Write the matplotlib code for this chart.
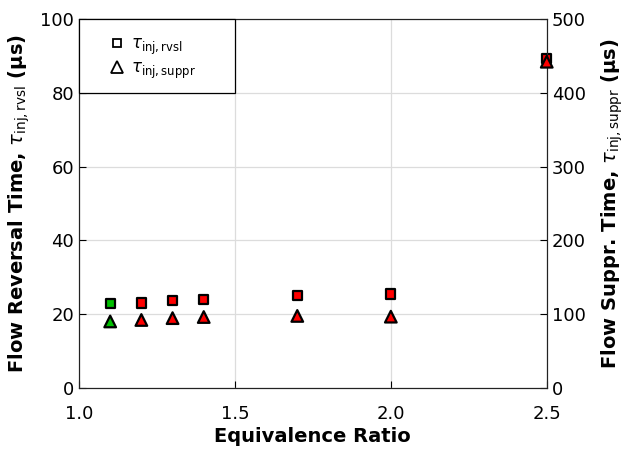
import matplotlib
matplotlib.use("Agg")
import matplotlib.pyplot as plt
from matplotlib.lines import Line2D
from matplotlib.patches import Rectangle

phi = [1.1, 1.2, 1.3, 1.4, 1.7, 2.0, 2.5]
tau_rvsl = [22.8, 23.0, 23.6, 24.0, 25.0, 25.4, 89.3]
tau_suppr = [90, 92, 94.5, 96, 97.5, 96.5, 442]
colors = ["#00c000", "red", "red", "red", "red", "red", "red"]

fig = plt.figure(figsize=(6.27, 4.51), dpi=100)
ax = fig.add_axes([0.126, 0.140, 0.746, 0.818])
ax2 = ax.twinx()

ax.set_xlim(1.0, 2.5)
ax.set_ylim(0, 100)
ax2.set_ylim(0, 500)
ax.set_xticks([1.0, 1.5, 2.0, 2.5])
ax.set_yticks([0, 20, 40, 60, 80, 100])
ax2.set_yticks([0, 100, 200, 300, 400, 500])

ax.grid(True, color="#dcdcdc", linewidth=0.9)
ax.set_axisbelow(True)

for a in (ax, ax2):
    a.tick_params(direction="in", length=5, labelsize=13)
    for s in a.spines.values():
        s.set_color("#222222")
ax.tick_params(axis="x", pad=12)

ax.scatter(phi, tau_rvsl, marker="s", s=45, c=colors, edgecolors="black",
           linewidths=1.6, zorder=5, clip_on=False)
ax2.scatter(phi, tau_suppr, marker="^", s=70, c=colors, edgecolors="black",
            linewidths=1.6, zorder=4, clip_on=False)

ax.set_xlabel("Equivalence Ratio", fontsize=14, fontweight="bold", labelpad=3)
ax.set_ylabel(r"Flow Reversal Time, $\tau_{\mathrm{inj,rvsl}}$ (μs)", fontsize=14,
              fontweight="bold", labelpad=6)
ax2.set_ylabel(r"Flow Suppr. Time, $\tau_{\mathrm{inj,suppr}}$ (μs)", fontsize=14,
               fontweight="bold", labelpad=10)

# legend box spanning top-left corner
ax2.add_patch(Rectangle((0, 0.8), 1/3, 0.2, transform=ax2.transAxes,
                        facecolor="white", edgecolor="black", linewidth=0.9,
                        zorder=6, clip_on=False))

handles = [
    Line2D([], [], marker="s", linestyle="none", markerfacecolor="white",
           markeredgecolor="black", markersize=6, markeredgewidth=1.3),
    Line2D([], [], marker="^", linestyle="none", markerfacecolor="white",
           markeredgecolor="black", markersize=8, markeredgewidth=1.3),
]
leg = ax2.legend(handles, [r"$\tau_{\mathrm{inj,rvsl}}$", r"$\tau_{\mathrm{inj,suppr}}$"],
                 loc="center", bbox_to_anchor=(0.155, 0.895), borderaxespad=0,
                 fontsize=12, frameon=False,
                 handletextpad=0.2, handlelength=1.2, borderpad=0.0,
                 labelspacing=0.1)
leg.set_zorder(7)

fig.savefig("out.png", dpi=100)
